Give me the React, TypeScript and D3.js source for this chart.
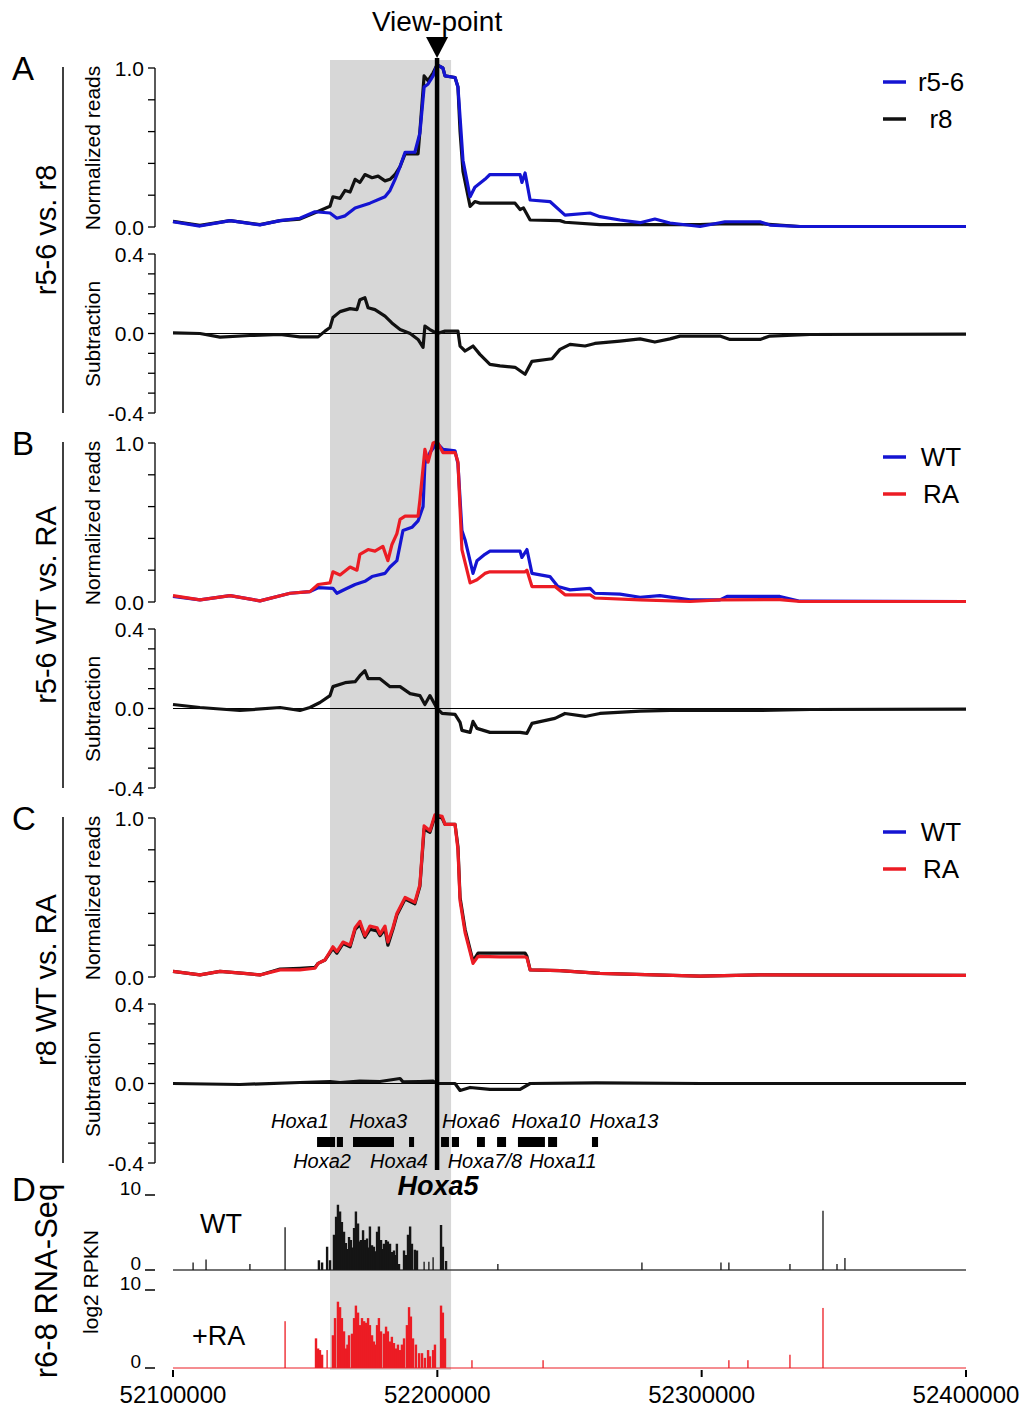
import React from 'react';
import * as d3 from 'd3';

// ---------- data (genomic positions in kb on chr6) ----------
const xTickKb = [52100, 52200, 52300, 52400];
const normTicks = [0, 0.2, 0.4, 0.6, 0.8, 1.0];
const normTickLabels = ['0.0', '', '', '', '', '1.0'];
const subTicks = [-0.4, -0.3, -0.2, -0.1, 0, 0.1, 0.2, 0.3, 0.4];
const subTickLabels = ['-0.4', '', '', '', '0.0', '', '', '', '0.4'];

const viewPointKb = 52199.9;
const shadeKb = [52159.4, 52205.2];

// Panel A
const aR56: [number, number][] = [[52100,0.033],[52110.2,0.006],[52121.6,0.04],[52132.9,0.013],[52140.5,0.04],[52148.0,0.055],[52153.7,0.096],[52159.4,0.088],[52162.0,0.055],[52165.1,0.07],[52168.9,0.12],[52174.5,0.15],[52180.2,0.19],[52182.1,0.23],[52184.0,0.30],[52185.9,0.38],[52187.8,0.47],[52191.5,0.47],[52193.4,0.59],[52195.0,0.88],[52196.5,0.90],[52198.4,0.95],[52199.9,1.02],[52202.1,1.0],[52202.9,0.95],[52206.7,0.94],[52207.8,0.88],[52208.6,0.69],[52209.7,0.42],[52212.4,0.19],[52214.2,0.25],[52218.0,0.30],[52219.9,0.33],[52231.3,0.33],[52232.0,0.28],[52233.2,0.34],[52235.1,0.17],[52242.6,0.16],[52248.3,0.075],[52257.8,0.088],[52261.5,0.065],[52269.1,0.044],[52276.7,0.027],[52282.3,0.05],[52288.0,0.025],[52299.4,0.003],[52308.8,0.033],[52322.1,0.033],[52325.8,0.012],[52337.2,0.003],[52400,0.003]];
const aR8: [number, number][] = [[52100,0.035],[52110.2,0.01],[52121.6,0.04],[52132.9,0.015],[52140.5,0.04],[52148.0,0.05],[52153.7,0.09],[52159.4,0.13],[52160.5,0.19],[52163.2,0.18],[52165.1,0.23],[52167.0,0.22],[52168.9,0.30],[52170.7,0.28],[52172.6,0.33],[52175.3,0.31],[52177.6,0.32],[52180.2,0.29],[52182.1,0.30],[52184.0,0.33],[52185.9,0.38],[52187.8,0.46],[52192.7,0.46],[52193.4,0.60],[52195.0,0.95],[52196.5,0.92],[52198.4,0.97],[52199.9,1.02],[52202.1,1.0],[52202.9,0.95],[52206.7,0.94],[52207.8,0.88],[52208.6,0.60],[52209.7,0.35],[52212.4,0.13],[52214.2,0.16],[52216.1,0.15],[52229.4,0.15],[52231.3,0.11],[52232.6,0.12],[52235.1,0.044],[52246.4,0.04],[52248.3,0.03],[52261.5,0.015],[52299.4,0.015],[52306.9,0.02],[52322.1,0.02],[52337.2,0.003],[52400,0.003]];
const aSub: [number, number][] = [[52100,0.003],[52110.2,0],[52117.8,-0.018],[52129.1,-0.01],[52140.5,-0.005],[52148.0,-0.017],[52154.9,-0.017],[52157.5,0.012],[52159.4,0.03],[52160.5,0.08],[52163.2,0.11],[52167.0,0.125],[52169.6,0.12],[52170.7,0.17],[52172.6,0.18],[52173.8,0.13],[52176.4,0.12],[52180.2,0.087],[52182.8,0.053],[52185.9,0.02],[52189.7,0],[52192.7,-0.03],[52194.6,-0.07],[52195.3,0.037],[52197.2,0.02],[52199.9,0],[52202.9,0.012],[52207.8,0.012],[52208.6,-0.063],[52210.5,-0.088],[52213.5,-0.063],[52216.1,-0.105],[52219.9,-0.155],[52223.7,-0.163],[52229.4,-0.17],[52233.2,-0.205],[52235.8,-0.14],[52243.4,-0.127],[52246.4,-0.08],[52250.2,-0.055],[52255.9,-0.063],[52259.6,-0.05],[52269.1,-0.038],[52276.7,-0.027],[52282.3,-0.043],[52288.0,-0.027],[52291.8,-0.013],[52306.9,-0.013],[52310.7,-0.03],[52322.1,-0.03],[52325.8,-0.013],[52341.0,-0.005],[52400,-0.003]];

// Panel B
const bWT: [number, number][] = [[52100,0.035],[52110.2,0.013],[52121.6,0.04],[52132.9,0.007],[52144.3,0.055],[52151.8,0.065],[52154.9,0.09],[52160.5,0.086],[52162.0,0.055],[52165.1,0.08],[52168.9,0.11],[52172.6,0.13],[52175.3,0.16],[52180.2,0.18],[52182.1,0.22],[52184.7,0.26],[52187.0,0.45],[52190.4,0.47],[52192.7,0.51],[52194.6,0.60],[52195.3,0.87],[52197.2,0.94],[52199.9,1.0],[52202.1,0.96],[52206.7,0.95],[52207.8,0.87],[52209.3,0.45],[52210.5,0.39],[52213.5,0.18],[52215.0,0.26],[52218.0,0.30],[52219.9,0.32],[52231.3,0.32],[52232.0,0.28],[52233.9,0.33],[52235.8,0.18],[52242.6,0.16],[52245.6,0.097],[52250.2,0.076],[52257.8,0.086],[52259.6,0.055],[52269.1,0.05],[52276.7,0.03],[52284.2,0.04],[52295.6,0.013],[52306.9,0.013],[52309.6,0.035],[52329.6,0.035],[52337.2,0.005],[52400,0.003]];
const bRA: [number, number][] = [[52100,0.04],[52110.2,0.013],[52121.6,0.04],[52132.9,0.007],[52144.3,0.055],[52151.8,0.065],[52154.9,0.11],[52159.4,0.12],[52160.5,0.19],[52163.2,0.17],[52167.0,0.22],[52169.6,0.20],[52170.7,0.30],[52173.8,0.33],[52176.4,0.32],[52179.4,0.35],[52181.3,0.26],[52182.8,0.36],[52184.7,0.43],[52185.9,0.52],[52187.8,0.54],[52192.7,0.54],[52193.4,0.64],[52195.3,0.96],[52196.5,0.88],[52198.4,1.0],[52199.9,1.01],[52202.1,0.94],[52206.7,0.94],[52207.8,0.88],[52209.3,0.33],[52212.4,0.12],[52215.0,0.14],[52218.0,0.18],[52219.9,0.19],[52233.2,0.19],[52233.9,0.20],[52235.8,0.097],[52244.5,0.097],[52248.3,0.045],[52257.8,0.045],[52259.6,0.025],[52276.7,0.013],[52295.6,0.003],[52306.9,0.013],[52329.6,0.015],[52337.2,0.003],[52400,0.003]];
const bSub: [number, number][] = [[52100,0.02],[52110.2,0.005],[52125.3,-0.01],[52140.5,0.005],[52148.0,-0.01],[52151.8,0.005],[52155.6,0.03],[52159.4,0.065],[52160.5,0.11],[52165.1,0.13],[52168.9,0.135],[52170.7,0.165],[52172.6,0.19],[52173.8,0.15],[52178.3,0.15],[52182.1,0.11],[52185.9,0.11],[52189.7,0.075],[52193.4,0.065],[52195.3,0.02],[52197.2,0.065],[52199.9,0],[52201.8,-0.025],[52206.7,-0.03],[52208.6,-0.07],[52209.3,-0.11],[52212.4,-0.12],[52213.5,-0.065],[52215.0,-0.1],[52219.9,-0.12],[52231.3,-0.12],[52233.9,-0.125],[52235.8,-0.075],[52244.5,-0.05],[52248.3,-0.025],[52255.9,-0.04],[52261.5,-0.025],[52276.7,-0.013],[52291.8,-0.008],[52322.1,-0.01],[52341.0,-0.005],[52400,-0.003]];

// Panel C
const cWT: [number, number][] = [[52100,0.035],[52110.2,0.013],[52117.8,0.035],[52129.1,0.02],[52132.9,0.013],[52140.5,0.05],[52148.0,0.055],[52153.7,0.06],[52154.9,0.086],[52157.5,0.107],[52160.5,0.18],[52162.0,0.15],[52164.3,0.21],[52167.0,0.19],[52168.9,0.30],[52170.7,0.33],[52172.6,0.25],[52174.5,0.30],[52177.2,0.29],[52178.3,0.26],[52180.2,0.30],[52181.3,0.20],[52183.2,0.30],[52184.7,0.39],[52187.8,0.49],[52191.5,0.46],[52193.4,0.57],[52195.0,0.93],[52197.2,0.91],[52199.1,1.01],[52201.8,1.0],[52202.9,0.96],[52206.7,0.96],[52207.8,0.82],[52208.6,0.50],[52210.5,0.30],[52213.5,0.10],[52215.4,0.15],[52223.7,0.15],[52233.2,0.15],[52233.9,0.13],[52235.1,0.045],[52246.4,0.04],[52261.5,0.023],[52299.4,0.006],[52322.1,0.013],[52400,0.01]];
const cRA: [number, number][] = [[52100,0.035],[52110.2,0.013],[52117.8,0.035],[52129.1,0.02],[52132.9,0.013],[52140.5,0.045],[52148.0,0.045],[52153.7,0.055],[52154.9,0.086],[52157.5,0.107],[52160.5,0.19],[52162.0,0.16],[52164.3,0.22],[52167.0,0.20],[52168.9,0.31],[52170.7,0.35],[52172.6,0.26],[52174.5,0.32],[52177.2,0.31],[52178.3,0.27],[52180.2,0.32],[52181.3,0.22],[52183.2,0.31],[52184.7,0.40],[52187.8,0.50],[52191.5,0.47],[52193.4,0.58],[52195.0,0.95],[52197.2,0.92],[52199.1,1.02],[52201.8,1.01],[52202.9,0.96],[52206.7,0.96],[52207.8,0.80],[52208.6,0.48],[52210.5,0.28],[52213.5,0.086],[52215.4,0.13],[52223.7,0.127],[52233.2,0.127],[52233.9,0.12],[52235.1,0.045],[52246.4,0.04],[52261.5,0.023],[52299.4,0.006],[52322.1,0.013],[52400,0.01]];
const cSub: [number, number][] = [[52100,0],[52125.3,-0.005],[52148.0,0.005],[52159.4,0.01],[52163.2,0.005],[52170.7,0.012],[52178.3,0.01],[52185.9,0.025],[52187.0,0.008],[52193.4,0.01],[52198.4,0.012],[52199.9,0],[52206.7,0],[52208.6,-0.035],[52212.4,-0.02],[52219.9,-0.03],[52231.3,-0.03],[52235.1,0],[52260,0.003],[52300,0],[52400,0]];

// Genes
const geneBoxes: [string, number, number][] = [['Hoxa1',52154.5,52161.3],['Hoxa2',52162.0,52164.3],['Hoxa3',52168.1,52183.6],['Hoxa4',52189.3,52191.2],['Hoxa5',52201.4,52204.4],['Hoxa6',52205.5,52208.2],['Hoxa7',52215.0,52218.0],['Hoxa9',52222.6,52226.0],['Hoxa10',52230.5,52240.7],['Hoxa11',52241.9,52245.3],['Hoxa13',52258.5,52260.8]];
const geneLabelsTop: [string, number][] = [['Hoxa1',52148.0],['Hoxa3',52177.6],['Hoxa6',52212.7],['Hoxa10',52241.1],['Hoxa13',52270.6]];
const geneLabelsBottom: [string, number][] = [['Hoxa2',52156.4],['Hoxa4',52185.5],['Hoxa7/8',52218.0],['Hoxa11',52247.5]];

// RNA-seq (log2 RPKN)
const rnaWT: [number, number][] = [[52107.6,1.0],[52112.5,1.4],[52129.1,0.8],[52142.4,5.7],[52155.2,1.3],[52156.4,1.0],[52158.3,3.1],[52159.4,1.3],[52160.9,4.7],[52161.7,7.1],[52162.4,8.7],[52163.2,7.8],[52163.9,6.4],[52164.7,5.1],[52165.4,3.6],[52166.0,2.8],[52166.6,4.4],[52167.3,4.0],[52167.9,3.0],[52168.5,5.6],[52169.2,7.8],[52170.0,6.2],[52170.5,3.8],[52171.1,4.0],[52171.9,5.3],[52172.6,4.0],[52173.4,4.2],[52173.9,3.0],[52174.5,5.8],[52175.3,3.3],[52176.0,3.1],[52176.6,2.5],[52177.2,5.1],[52177.9,5.8],[52178.7,4.0],[52179.2,2.8],[52179.8,3.5],[52180.6,4.0],[52181.3,3.8],[52182.1,3.5],[52182.8,2.4],[52183.6,2.6],[52184.1,2.0],[52184.7,3.5],[52185.5,0.8],[52187.4,2.6],[52188.2,2.0],[52188.9,4.7],[52189.7,5.8],[52190.4,3.5],[52191.5,2.7],[52192.3,2.6],[52195.0,1.1],[52196.8,1.1],[52198.4,1.7],[52201.4,6.0],[52202.1,3.1],[52203.3,1.2],[52222.9,0.8],[52277.4,1.0],[52307.3,1.0],[52310.3,1.0],[52333.4,0.8],[52345.9,7.9],[52351.2,0.8],[52354.2,1.6]];
const rnaRA: [number, number][] = [[52142.4,6.0],[52154.1,3.8],[52154.9,2.5],[52155.6,2.3],[52156.4,1.7],[52158.3,2.3],[52160.5,4.2],[52161.3,6.4],[52162.4,8.5],[52163.2,7.8],[52163.9,6.4],[52164.7,4.7],[52165.4,2.5],[52166.0,3.0],[52166.6,4.2],[52167.7,4.4],[52168.5,6.4],[52169.2,8.0],[52170.0,7.1],[52170.7,5.5],[52171.5,6.4],[52172.3,6.0],[52173.0,5.8],[52173.8,6.4],[52174.5,5.5],[52175.3,4.2],[52176.0,3.4],[52176.6,3.0],[52177.2,5.5],[52177.9,6.4],[52178.7,4.7],[52179.8,4.4],[52180.6,5.3],[52181.3,4.7],[52182.1,3.4],[52182.8,4.0],[52183.6,3.2],[52184.4,2.5],[52185.1,3.0],[52185.9,2.3],[52186.6,3.0],[52187.4,3.8],[52188.5,5.5],[52189.3,7.8],[52190.0,6.6],[52190.8,3.8],[52191.9,3.0],[52193.1,1.9],[52194.2,1.9],[52195.3,1.3],[52196.5,2.3],[52197.2,1.5],[52198.4,2.3],[52199.1,3.0],[52201.4,8.0],[52202.1,7.1],[52202.9,3.8],[52213.1,1.0],[52240.0,1.0],[52310.3,1.0],[52317.5,1.0],[52333.4,1.7],[52345.9,7.7]];

// ---------- styling ----------
const FONT = "'Liberation Sans', Arial, Helvetica, sans-serif";
const BLUE = '#1414d2';
const RED = '#ec1c24';
const BLACK = '#111';
const SHADE = '#d7d7d7';

const x = d3.scaleLinear().domain([52100, 52400]).range([173, 966]);

type Series = { data: [number, number][]; color: string };

function Panel({ top, letter, title, series, sub, legend }: { top: number; letter: string; title: string; series: Series[]; sub: [number, number][]; legend: { label: string; color: string }[] }) {
  const yN = d3.scaleLinear().domain([0, 1]).range([top + 159, top]);
  const yS = d3.scaleLinear().domain([-0.4, 0.4]).range([top + 345, top + 186]);
  const lineN = d3.line<[number, number]>().x(d => x(d[0])).y(d => yN(d[1]));
  const lineS = d3.line<[number, number]>().x(d => x(d[0])).y(d => yS(d[1]));
  const axX = 155;
  return (
    <g>
      <text x={12} y={top + 12} fontSize={33} fontFamily={FONT}>{letter}</text>
      <line x1={63} x2={63} y1={top - 1} y2={top + 345} stroke="#000" strokeWidth={1.5} />
      <text transform={`translate(56,${top + 162}) rotate(-90)`} textAnchor="middle" fontSize={29} fontFamily={FONT}>{title}</text>
      <text transform={`translate(100,${top + 80}) rotate(-90)`} textAnchor="middle" fontSize={21} fontFamily={FONT}>Normalized reads</text>
      <text transform={`translate(100,${top + 266}) rotate(-90)`} textAnchor="middle" fontSize={21} fontFamily={FONT}>Subtraction</text>
      {/* normalized axis */}
      <line x1={axX} x2={axX} y1={yN(1)} y2={yN(0)} stroke="#000" strokeWidth={1.3} />
      {normTicks.map((t, i) => (
        <g key={'n' + i}>
          <line x1={axX - 7} x2={axX} y1={yN(t)} y2={yN(t)} stroke="#000" strokeWidth={1.3} />
          {normTickLabels[i] && <text x={axX - 11} y={yN(t)} dy="0.36em" textAnchor="end" fontSize={21} fontFamily={FONT}>{normTickLabels[i]}</text>}
        </g>
      ))}
      {/* subtraction axis */}
      <line x1={axX} x2={axX} y1={yS(0.4)} y2={yS(-0.4)} stroke="#000" strokeWidth={1.3} />
      {subTicks.map((t, i) => (
        <g key={'s' + i}>
          <line x1={axX - 7} x2={axX} y1={yS(t)} y2={yS(t)} stroke="#000" strokeWidth={1.3} />
          {subTickLabels[i] && <text x={axX - 11} y={yS(t)} dy="0.36em" textAnchor="end" fontSize={21} fontFamily={FONT}>{subTickLabels[i]}</text>}
        </g>
      ))}
      {/* series */}
      {series.map((s, i) => (
        <path key={'l' + i} d={lineN(s.data) || ''} fill="none" stroke={s.color} strokeWidth={3.2} strokeLinejoin="round" />
      ))}
      <line x1={x(52100)} x2={x(52400)} y1={yS(0)} y2={yS(0)} stroke="#000" strokeWidth={1.2} />
      <path d={lineS(sub) || ''} fill="none" stroke={BLACK} strokeWidth={3.2} strokeLinejoin="round" />
      {/* legend */}
      {legend.map((l, i) => (
        <g key={'g' + i}>
          <line x1={883} x2={906} y1={top + 14 + i * 37} y2={top + 14 + i * 37} stroke={l.color} strokeWidth={3.5} />
          <text x={941} y={top + 14 + i * 37} dy="0.36em" textAnchor="middle" fontSize={26} fontFamily={FONT}>{l.label}</text>
        </g>
      ))}
    </g>
  );
}

function Bars({ data, y0, y, color }: { data: [number, number][]; y0: number; y: d3.ScaleLinear<number, number>; color: string }) {
  return (
    <g>
      {data.map((d, i) => {
        const prev = i > 0 ? d[0] - data[i - 1][0] : 99;
        const next = i < data.length - 1 ? data[i + 1][0] - d[0] : 99;
        const w = Math.min(prev, next) < 1.3 ? 2.4 : 1.3;
        return <rect key={i} x={x(d[0]) - w / 2} y={y(d[1])} width={w} height={y0 - y(d[1])} fill={color} />;
      })}
    </g>
  );
}

export default function App() {
  const yW = d3.scaleLinear().domain([0, 10]).range([1270, 1195]);
  const yR = d3.scaleLinear().domain([0, 10]).range([1368, 1290]);
  const vx = x(viewPointKb);
  return (
    <svg width={1026} height={1408} style={{ position: 'absolute', left: 0, top: 0, background: '#fff' }} fontFamily={FONT}>
      <rect x={0} y={0} width={1026} height={1408} fill="#fff" />
      <rect x={x(shadeKb[0])} y={60} width={x(shadeKb[1]) - x(shadeKb[0])} height={1370 - 60} fill={SHADE} />

      <Panel top={68} letter="A" title="r5-6 vs. r8" series={[{ data: aR8, color: BLACK }, { data: aR56, color: BLUE }]} sub={aSub} legend={[{ label: 'r5-6', color: BLUE }, { label: 'r8', color: BLACK }]} />
      <Panel top={443} letter="B" title="r5-6 WT vs. RA" series={[{ data: bWT, color: BLUE }, { data: bRA, color: RED }]} sub={bSub} legend={[{ label: 'WT', color: BLUE }, { label: 'RA', color: RED }]} />
      <Panel top={818} letter="C" title="r8 WT vs. RA" series={[{ data: cWT, color: BLACK }, { data: cRA, color: RED }]} sub={cSub} legend={[{ label: 'WT', color: BLUE }, { label: 'RA', color: RED }]} />

      {/* genes */}
      {geneBoxes.map((g, i) => (
        <rect key={'gb' + i} x={x(g[1])} y={1137} width={x(g[2]) - x(g[1])} height={10} fill="#000" />
      ))}
      {geneLabelsTop.map((g, i) => (
        <text key={'gt' + i} x={x(g[1])} y={1128} textAnchor="middle" fontStyle="italic" fontSize={20} fontFamily={FONT}>{g[0]}</text>
      ))}
      {geneLabelsBottom.map((g, i) => (
        <text key={'gl' + i} x={x(g[1])} y={1168} textAnchor="middle" fontStyle="italic" fontSize={20} fontFamily={FONT}>{g[0]}</text>
      ))}
      <text x={x(52200.3)} y={1195} textAnchor="middle" fontStyle="italic" fontWeight="bold" fontSize={27} fontFamily={FONT}>Hoxa5</text>

      {/* view-point */}
      <line x1={vx} x2={vx} y1={58} y2={1170} stroke="#000" strokeWidth={4.5} />
      <path d={`M${vx - 11},37 L${vx + 11},37 L${vx},58 Z`} fill="#000" />
      <text x={vx} y={31} textAnchor="middle" fontSize={28} fontFamily={FONT}>View-point</text>

      {/* RNA-seq */}
      <text x={12} y={1201} fontSize={33} fontFamily={FONT}>D</text>
      <text transform={`translate(57,1281) rotate(-90)`} textAnchor="middle" fontSize={31} fontFamily={FONT}>r6-8 RNA-Seq</text>
      <text transform={`translate(98,1282) rotate(-90)`} textAnchor="middle" fontSize={21} fontFamily={FONT}>log2 RPKN</text>
      {[{ s: yW, v: 10, l: '10' }, { s: yW, v: 0, l: '0' }, { s: yR, v: 10, l: '10' }, { s: yR, v: 0, l: '0' }].map((t, i) => (
        <g key={'r' + i}>
          <text x={141} y={t.s(t.v)} textAnchor="end" fontSize={19} fontFamily={FONT}>{t.l}</text>
          <line x1={145} x2={155} y1={t.s(t.v)} y2={t.s(t.v)} stroke="#000" strokeWidth={1.5} />
        </g>
      ))}
      <line x1={x(52100)} x2={x(52400)} y1={1270} y2={1270} stroke="#444" strokeWidth={1.3} />
      <line x1={x(52100)} x2={x(52400)} y1={1368} y2={1368} stroke={RED} strokeWidth={1.2} />
      <Bars data={rnaWT} y0={1270} y={yW} color="#151515" />
      <Bars data={rnaRA} y0={1368} y={yR} color={RED} />
      <text x={200} y={1233} fontSize={27} fontFamily={FONT}>WT</text>
      <text x={192} y={1345} fontSize={27} fontFamily={FONT}>+RA</text>

      {/* x axis */}
      {xTickKb.map((t, i) => (
        <g key={'x' + i}>
          <line x1={x(t)} x2={x(t)} y1={1370} y2={1377} stroke="#000" strokeWidth={2} />
          <text x={x(t)} y={1403} textAnchor="middle" fontSize={24} fontFamily={FONT}>{String(t * 1000)}</text>
        </g>
      ))}
    </svg>
  );
}
